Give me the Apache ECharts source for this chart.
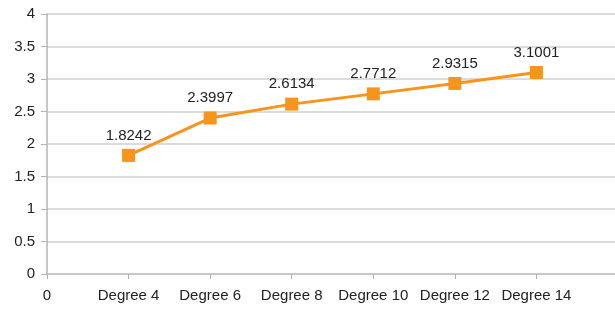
<!DOCTYPE html>
<html>
<head>
<meta charset="utf-8">
<script src="https://cdn.jsdelivr.net/npm/echarts@6/dist/echarts.min.js"></script>
<style>html,body{margin:0;padding:0;background:#fff;overflow:hidden;width:615px;height:309px;}#c{width:621px;height:309px;}</style>
</head>
<body>
<div id="c"></div>
<script>
var categories = ["0", "Degree 4", "Degree 6", "Degree 8", "Degree 10", "Degree 12", "Degree 14", ""];
var values = [null, 1.8242, 2.3997, 2.6134, 2.7712, 2.9315, 3.1001, null];
var yTicks = [0, 0.5, 1, 1.5, 2, 2.5, 3, 3.5, 4];

var chart = echarts.init(document.getElementById('c'), null, {renderer: 'canvas'});
var font = 'Liberation Sans, Arial, sans-serif';
chart.setOption({
  animation: false,
  backgroundColor: '#ffffff',
  grid: {left: 47, right: 0, top: 14, bottom: 35, containLabel: false},
  xAxis: {
    type: 'category',
    data: categories,
    boundaryGap: false,
    axisLine: {show: true, lineStyle: {color: '#c4c4c4', width: 1.5}},
    axisTick: {show: true, length: 5, lineStyle: {color: '#b0b0b0'}, interval: 0},
    axisLabel: {interval: 0, margin: 14, color: '#222', fontFamily: font, fontSize: 15},
    splitLine: {show: false}
  },
  yAxis: {
    type: 'value',
    min: yTicks[0],
    max: yTicks[yTicks.length - 1],
    interval: 0.5,
    axisLine: {show: true, lineStyle: {color: '#b5b5b5', width: 1.5}},
    axisTick: {show: true, length: 6, lineStyle: {color: '#b5b5b5'}},
    axisLabel: {margin: 12, color: '#222', fontFamily: font, fontSize: 15},
    splitLine: {show: true, lineStyle: {color: '#cfcfcf', width: 1.5}}
  },
  series: [{
    type: 'line',
    data: values,
    symbol: 'rect',
    symbolSize: 13,
    connectNulls: false,
    lineStyle: {color: '#f7941d', width: 3},
    itemStyle: {color: '#f7941d'},
    label: {show: true, position: 'top', distance: 6, color: '#222', fontFamily: font, fontSize: 15}
  }]
});
</script>
</body>
</html>
